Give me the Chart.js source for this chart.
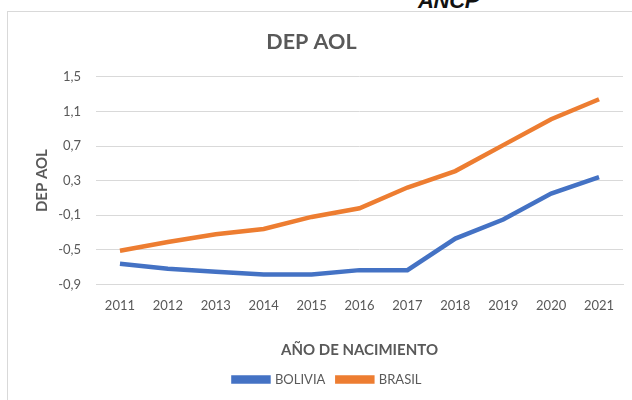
<!DOCTYPE html>
<html>
<head>
<meta charset="utf-8">
<script src="https://cdn.jsdelivr.net/npm/chart.js@4.4.0/dist/chart.umd.min.js"></script>
<style>
  body { margin: 0; background: #fff; }
  #marco { position: absolute; left: 7px; top: 11px; width: 700px; height: 450px; border: 1px solid #d9d9d9; }
  #logo { position: absolute; left: 418px; top: -12px; font: italic bold 22px "Liberation Sans", Arial, sans-serif; color: #111; letter-spacing: -0.3px; }
  #caja { position: absolute; left: 0; top: 0; width: 632px; height: 400px; }
</style>
</head>
<body>
<div id="marco"></div>
<div id="logo">ANCP</div>
<div id="caja"><canvas id="grafico"></canvas></div>
<script>
const anios = ["2011", "2012", "2013", "2014", "2015", "2016", "2017", "2018", "2019", "2020", "2021"];
const bolivia = [-0.66, -0.72, -0.755, -0.785, -0.785, -0.735, -0.735, -0.37, -0.15, 0.15, 0.34];
const brasil = [-0.51, -0.41, -0.32, -0.26, -0.12, -0.02, 0.22, 0.41, 0.71, 1.01, 1.24];

const gris = "#595959";
const fuente = "Lato, 'Open Sans', sans-serif";

const ctx = document.getElementById("grafico").getContext("2d");

// el título del gráfico va centrado sobre todo el marco, no sobre el área con padding
const moverTitulo = {
  id: "moverTitulo",
  afterLayout(chart) {
    const t = chart.titleBlock;
    if (t) { t.left -= 16; t.right -= 16; }
  }
};

new Chart(ctx, {
  type: "line",
  data: {
    labels: anios,
    datasets: [
      { label: "BOLIVIA", data: bolivia, borderColor: "#4472C4", backgroundColor: "#4472C4", borderWidth: 4.5, pointRadius: 0, tension: 0 },
      { label: "BRASIL", data: brasil, borderColor: "#ED7D31", backgroundColor: "#ED7D31", borderWidth: 4.5, pointRadius: 0, tension: 0 }
    ]
  },
  plugins: [moverTitulo],
  options: {
    responsive: true,
    maintainAspectRatio: false,
    animation: false,
    layout: { padding: { left: 32, right: 9, top: 0, bottom: 4 } },
    plugins: {
      title: {
        display: true,
        text: "DEP AOL",
        color: gris,
        font: { family: fuente, size: 21.5, weight: "bold" },
        padding: { top: 29, bottom: 22 }
      },
      legend: {
        position: "bottom",
        labels: {
          color: gris,
          font: { family: fuente, size: 13 },
          boxWidth: 35,
          boxHeight: 4,
          padding: 12
        }
      },
      tooltip: { enabled: false }
    },
    scales: {
      x: {
        offset: true,
        grid: { display: false },
        border: { color: "#d9d9d9" },
        ticks: { color: gris, font: { family: fuente, size: 13 }, padding: 6 },
        title: {
          display: true,
          text: "AÑO DE NACIMIENTO",
          color: gris,
          font: { family: fuente, size: 15, weight: "bold" },
          padding: { top: 21, bottom: 2 }
        }
      },
      y: {
        min: -0.9,
        max: 1.5,
        afterFit: s => { s.width = 64; },
        grid: { color: "#d9d9d9", drawTicks: false },
        border: { display: false },
        ticks: {
          stepSize: 0.4,
          color: gris,
          font: { family: fuente, size: 13 },
          padding: 15,
          callback: v => v.toFixed(1).replace(".", ",")
        },
        title: {
          display: true,
          text: "DEP AOL",
          color: gris,
          font: { family: fuente, size: 15, weight: "bold" },
          padding: { top: 1, bottom: 0 }
        }
      }
    }
  }
});
</script>
</body>
</html>
